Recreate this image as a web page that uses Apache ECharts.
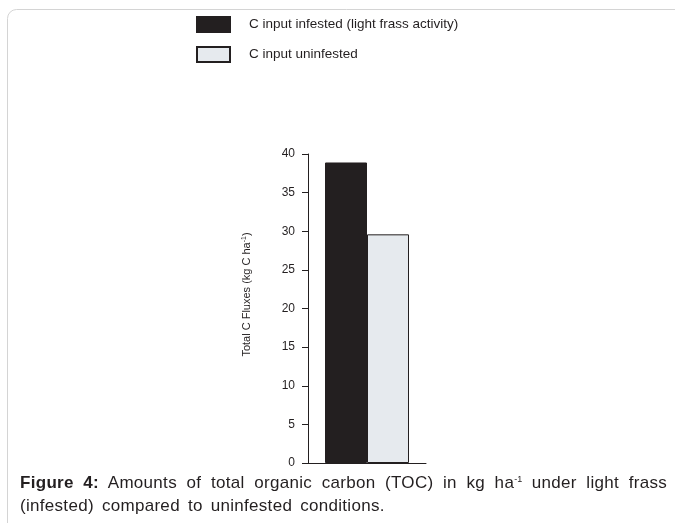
<!DOCTYPE html>
<html>
<head>
<meta charset="utf-8">
<script src="https://cdn.jsdelivr.net/npm/echarts@6/dist/echarts.min.js"></script>
<style>
  html, body { margin: 0; padding: 0; background: #fff; }
  #wrap { position: relative; width: 675px; height: 523px; overflow: hidden; }
  #chart { position: absolute; left: 0; top: 0; width: 675px; height: 523px; }
  #caption {
    position: absolute; left: 20px; top: 471px; width: 647px;
    font-family: "Liberation Sans", Arial, sans-serif; font-size: 17px; line-height: 23px;
    letter-spacing: 0.3px; color: #231f20;
  }
  #caption .l1 { text-align: justify; text-align-last: justify; white-space: nowrap; }
  #caption .l2 { word-spacing: 3px; }
</style>
</head>
<body>
<div id="wrap">
  <div id="chart"></div>
  <div id="caption">
    <div class="l1"><b>Figure 4:</b> Amounts of total organic carbon (TOC) in kg ha<sup style="font-size:9px;vertical-align:6px;line-height:0;letter-spacing:0">-1</sup> under light frass</div>
    <div class="l2">(infested) compared to uninfested conditions.</div>
  </div>
</div>
<script>
const seriesNames = ['C input infested (light frass activity)', 'C input uninfested']
const infested = [38.9]
const uninfested = [29.6]
const categories = ['']
const yTicks = { min: 0, max: 40, interval: 5 }

const chart = echarts.init(document.getElementById('chart'))
const ink = '#231f20'
const font = '"Liberation Sans", Arial, sans-serif'

chart.setOption({
  animation: false,
  textStyle: { fontFamily: font },
  graphic: [
    {
      type: 'rect', silent: true,
      shape: { x: 7.5, y: 9.5, width: 720, height: 600, r: 9 },
      style: { fill: 'none', stroke: '#d4d4d4', lineWidth: 1 }
    }
  ],
  legend: {
    left: 196, top: 16, orient: 'vertical', padding: 0,
    icon: 'rect',
    itemWidth: 33, itemHeight: 15, itemGap: 13,
    textStyle: { color: ink, fontSize: 13.5, padding: [0, 0, 0, 14] },
    data: seriesNames
  },
  grid: { left: 308, top: 154, width: 118, height: 309 },
  xAxis: {
    type: 'category', data: categories,
    axisLine: { lineStyle: { color: ink, width: 1 } },
    axisTick: { show: false }, axisLabel: { show: false }
  },
  yAxis: {
    type: 'value', min: yTicks.min, max: yTicks.max, interval: yTicks.interval,
    name: '{a|Total C Fluxes (kg C ha}{s|-1}{a|)}',
    nameLocation: 'middle', nameGap: 56, nameRotate: 90,
    nameTextStyle: {
      padding: [0, 0, 0, 28],
      rich: {
        a: { fontSize: 11, color: ink, fontFamily: font },
        s: { fontSize: 7, color: ink, fontFamily: font, verticalAlign: 'top', padding: [0, 0, 4, 0] }
      }
    },
    axisLine: { show: true, lineStyle: { color: ink, width: 1 } },
    axisTick: { show: true, length: 6, lineStyle: { color: ink } },
    axisLabel: { color: ink, fontSize: 12, margin: 13 },
    splitLine: { show: false }
  },
  series: [
    {
      name: seriesNames[0], type: 'bar', data: infested,
      barWidth: 42, barGap: '0%',
      itemStyle: { color: ink, borderColor: ink, borderWidth: 1 }
    },
    {
      name: seriesNames[1], type: 'bar', data: uninfested,
      barWidth: 42,
      itemStyle: { color: '#e6eaee', borderColor: ink, borderWidth: 1 }
    }
  ]
})
</script>
</body>
</html>
